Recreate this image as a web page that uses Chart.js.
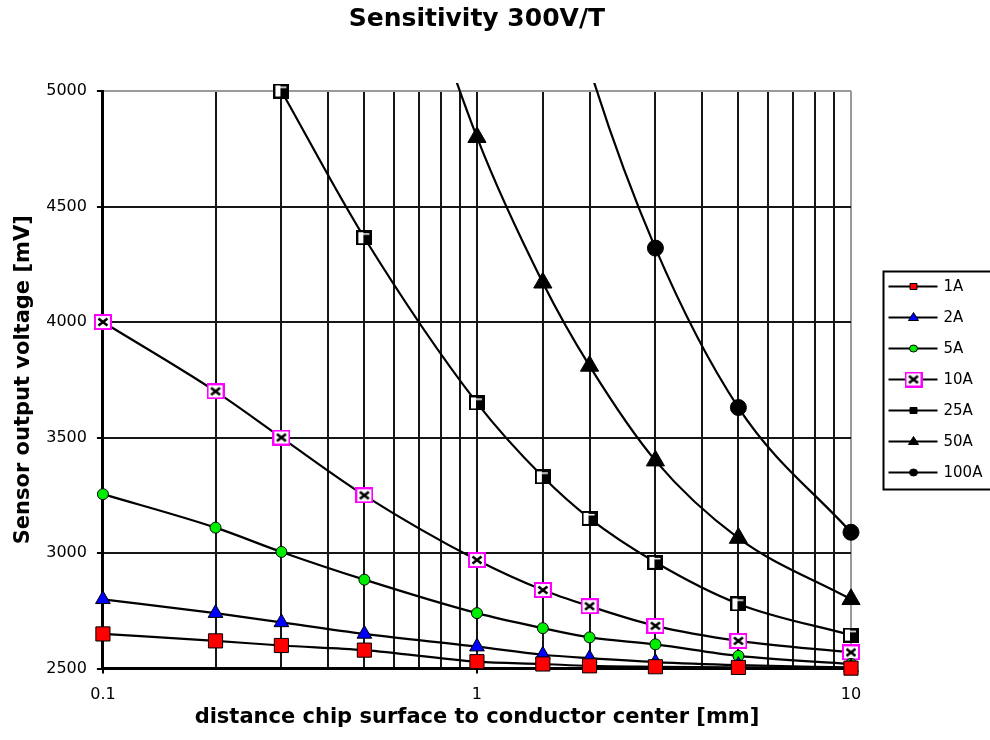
<!DOCTYPE html>
<html>
<head>
<meta charset="utf-8">
<script src="https://cdn.jsdelivr.net/npm/chart.js@4.4.1/dist/chart.umd.min.js"></script>
<style>
  html, body { margin: 0; padding: 0; background: #fff; }
  canvas { display: block; }
</style>
</head>
<body>
<canvas id="chart" width="990" height="740"></canvas>
<script>
// distances in mm (x), sensor output in mV (y)
const distances = [0.1, 0.2, 0.3, 0.5, 1, 1.5, 2, 3, 5, 10];
const seriesLabels = ['1A', '2A', '5A', '10A', '25A', '50A', '100A'];
const values1A = [2650, 2620, 2600, 2580, 2530, 2520, 2512, 2508, 2505, 2502];
const values2A = [2800, 2740, 2700, 2650, 2595, 2560, 2545, 2528, 2515, 2505];
const values5A = [3255, 3110, 3005, 2885, 2740, 2675, 2635, 2605, 2555, 2520];
const values10A = [4000, 3700, 3500, 3250, 2970, 2840, 2770, 2685, 2620, 2570];
const values25A = [null, null, 5000, 4365, 3650, 3330, 3150, 2960, 2780, 2645];
const values50A = [null, null, null, 6230, 4800, 4170, 3810, 3400, 3065, 2800];
const values100A = [null, null, null, null, null, 5850, 5100, 4320, 3630, 3090];
const yTicks = [2500, 3000, 3500, 4000, 4500, 5000];
const xTickLabels = [0.1, 1, 10];

Chart.defaults.font.family = "'DejaVu Sans', 'Liberation Sans', sans-serif";
Chart.defaults.color = '#000';

function toPoints(values) {
  return distances.map((d, i) => ({ x: d, y: values[i] }));
}

function crossBox(w, h) {
  const c = document.createElement('canvas');
  c.width = w;
  c.height = h;
  const g = c.getContext('2d');
  g.fillStyle = '#fff';
  g.fillRect(1, 1, w - 2, h - 2);
  g.strokeStyle = '#ff00ff';
  g.lineWidth = 2;
  g.strokeRect(1, 1, w - 2, h - 2);
  g.strokeStyle = '#000';
  g.lineWidth = 2.6;
  g.beginPath();
  g.moveTo(4.5, 4.5);
  g.lineTo(w - 4.5, h - 4.5);
  g.moveTo(w - 4.5, 4.5);
  g.lineTo(4.5, h - 4.5);
  g.stroke();
  return c;
}

function splitSquare(w, h) {
  const c = document.createElement('canvas');
  c.width = w;
  c.height = h;
  const g = c.getContext('2d');
  g.fillStyle = '#000';
  g.fillRect(0, 0, w, h);
  g.fillStyle = '#fff';
  g.fillRect(2, 2, Math.round(w * 0.3), h - 4);
  g.fillRect(Math.round(w * 0.45), 3, Math.round(w * 0.35), 1.5);
  return c;
}

const crossMarker = crossBox(18, 16);
const squareMarker = splitSquare(16, 15);

const seriesValues = [values1A, values2A, values5A, values10A, values25A, values50A, values100A];
const markerStyles = [
  { pointStyle: 'rect', pointRadius: 10, fill: '#ff0000', legend: 'rect' },
  { pointStyle: 'triangle', pointRadius: 8.5, fill: '#0000ff', legend: 'triangle' },
  { pointStyle: 'circle', pointRadius: 5.5, fill: '#00ee00', legend: 'circle' },
  { pointStyle: crossMarker, pointRadius: 8, fill: '#fff', legend: 'image' },
  { pointStyle: squareMarker, pointRadius: 8, fill: '#000', legend: 'rect' },
  { pointStyle: 'triangle', pointRadius: 10.5, fill: '#000', legend: 'triangle' },
  { pointStyle: 'circle', pointRadius: 8, fill: '#000', legend: 'circle' },
];

const datasets = seriesLabels.map((label, i) => ({
  label,
  data: toPoints(seriesValues[i]),
  borderColor: '#000',
  borderWidth: 2.2,
  cubicInterpolationMode: 'monotone',
  pointStyle: markerStyles[i].pointStyle,
  pointRadius: markerStyles[i].pointRadius,
  pointBackgroundColor: markerStyles[i].fill,
  pointBorderColor: '#000',
  pointBorderWidth: 1,
  clip: { left: 14, right: 14, top: 8, bottom: 14 },
}));

function isDecade(v) {
  const l = Math.log10(v);
  return Math.abs(l - Math.round(l)) < 1e-6;
}

const legendBox = {
  id: 'legendBox',
  afterDraw(chart) {
    const ctx = chart.ctx;
    const area = chart.chartArea;
    const left = area.right + 32.5;
    const rowGap = 31;
    const boxH = 218;
    const top = Math.round((area.top + area.bottom) / 2 - boxH / 2) + 0.5;
    ctx.save();
    ctx.strokeStyle = '#000';
    ctx.lineWidth = 2;
    ctx.strokeRect(left, top, 140, boxH);
    ctx.font = "15px 'DejaVu Sans', sans-serif";
    ctx.textBaseline = 'middle';
    ctx.textAlign = 'left';
    seriesLabels.forEach((label, i) => {
      const y = top + 15 + i * rowGap;
      const m = markerStyles[i];
      ctx.strokeStyle = '#000';
      ctx.lineWidth = 2;
      ctx.beginPath();
      ctx.moveTo(left + 5, y);
      ctx.lineTo(left + 54, y);
      ctx.stroke();
      const cx = left + 30;
      ctx.fillStyle = m.fill;
      ctx.lineWidth = 1;
      ctx.beginPath();
      if (m.legend === 'image') {
        ctx.drawImage(m.pointStyle, cx - 9, y - 8);
      } else if (m.legend === 'rect') {
        ctx.rect(cx - 3.5, y - 3, 7, 6);
        ctx.fill();
        ctx.stroke();
      } else if (m.legend === 'triangle') {
        ctx.moveTo(cx, y - 5);
        ctx.lineTo(cx + 5, y + 3);
        ctx.lineTo(cx - 5, y + 3);
        ctx.closePath();
        ctx.fill();
        ctx.stroke();
      } else {
        ctx.ellipse(cx, y, 4, 3.5, 0, 0, Math.PI * 2);
        ctx.fill();
        ctx.stroke();
      }
      ctx.fillStyle = '#000';
      ctx.fillText(label, left + 60, y + 1);
    });
    ctx.restore();
  },
};

new Chart(document.getElementById('chart').getContext('2d'), {
  type: 'line',
  data: { datasets },
  options: {
    responsive: false,
    animation: false,
    layout: { padding: { left: 7, right: 139, top: 0, bottom: 0 } },
    plugins: {
      legend: { display: false },
      tooltip: { enabled: false },
      title: {
        display: true,
        text: 'Sensitivity 300V/T',
        fullSize: false,
        color: '#000',
        font: { size: 25, weight: 'bold' },
        padding: { top: 4, bottom: 57 },
      },
    },
    scales: {
      x: {
        type: 'logarithmic',
        min: 0.1,
        max: 10,
        ticks: {
          autoSkip: false,
          maxRotation: 0,
          padding: 12,
          color: '#000',
          font: { size: 16 },
          callback(value) {
            const v = Math.round(Number(value) * 10) / 10;
            return xTickLabels.includes(v) && isDecade(Number(value)) ? String(v) : '';
          },
        },
        grid: {
          color: (c) => (c.tick && c.tick.value >= 9.99 ? '#9a9a9a' : '#161616'),
          lineWidth: 2,
          tickLength: 5,
          tickColor: (c) => (c.tick && isDecade(c.tick.value) ? '#000' : 'rgba(0,0,0,0)'),
        },
        border: { color: '#000', width: 3 },
        title: {
          display: true,
          text: 'distance chip surface to conductor center [mm]',
          color: '#000',
          font: { size: 21, weight: 'bold' },
          padding: { top: -12, bottom: 10 },
        },
      },
      y: {
        min: 2500,
        max: 5000,
        ticks: {
          stepSize: 500,
          padding: 10,
          color: '#000',
          font: { size: 16 },
          callback: (v) => (yTicks.includes(v) ? String(v) : ''),
        },
        grid: {
          color: (c) => (c.tick && c.tick.value === 5000 ? '#9a9a9a' : '#161616'),
          lineWidth: 2,
          tickLength: 6,
          tickColor: '#000',
        },
        border: { color: '#000', width: 3 },
        title: {
          display: true,
          text: 'Sensor output voltage [mV]',
          color: '#000',
          font: { size: 21, weight: 'bold' },
          padding: { top: 4, bottom: 0 },
        },
      },
    },
  },
  plugins: [legendBox],
});
</script>
</body>
</html>
